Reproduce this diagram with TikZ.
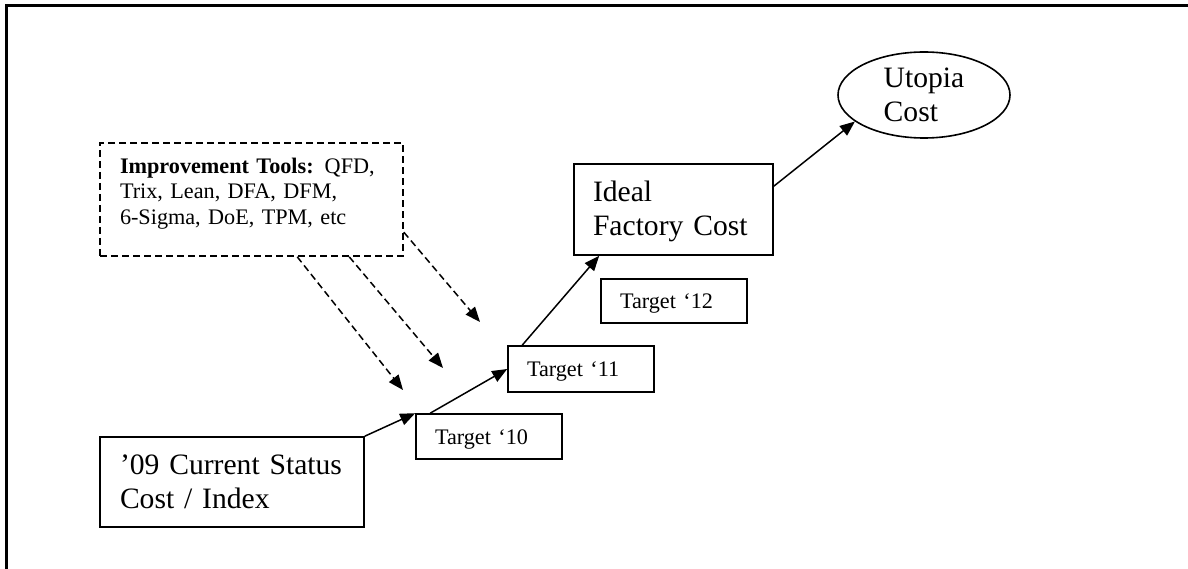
\documentclass[tikz,border=0pt]{standalone}
\usepackage{fontspec}
\setmainfont{Liberation Serif}
\usetikzlibrary{arrows.meta,shapes.geometric,calc}
\begin{document}
\begin{tikzpicture}[x=1pt,y=-1pt,
  box/.style={draw, line width=1.6pt, rectangle, inner ysep=0pt, align=left},
  bigtext/.style={font=\fontsize{29.6}{34}\selectfont},
  smalltext/.style={font=\fontsize{22.2}{25.5}\selectfont},
  targetbox/.style={box, smalltext, minimum width=146pt, text width=108pt, inner xsep=19pt},
  conn/.style={line width=1.5pt, -{Triangle[length=15pt,width=12pt]}},
  dconn/.style={conn, dash pattern=on 7pt off 4pt},
]
\useasboundingbox (0,0) rectangle (1188,569);
\draw[line width=2.2pt] (6.5,572) -- (6.5,5.5) -- (1192,5.5);

\node[box, bigtext, minimum width=264pt, minimum height=90pt, text width=224pt, inner xsep=20pt]
  (cur) at (232,482) {’09 Current Status\\Cost / Index};
\node[targetbox, minimum height=45pt] (t10) at (489,436.5) {\rule{0pt}{19.8pt}Target ‘10};
\node[targetbox, minimum height=46pt] (t11) at (581,369) {\rule{0pt}{19.8pt}Target ‘11};
\node[targetbox, minimum height=44pt] (t12) at (674,301) {\rule{0pt}{19.8pt}Target ‘12};
\node[box, bigtext, minimum width=199pt, minimum height=91pt, text width=161pt, inner xsep=19pt]
  (ideal) at (673.5,209.5) {\rule{0pt}{25pt}Ideal\\Factory Cost};
\node[draw, line width=1.6pt, ellipse, inner sep=0pt, minimum width=172pt, minimum height=86pt,
  bigtext, align=left] (utopia) at (924,95) {Utopia\\Cost};
\node[box, smalltext, dash pattern=on 7pt off 4pt, minimum width=303pt, minimum height=113pt,
  text width=263pt, inner xsep=20pt]
  (tools) at (251.5,199.5) {\mbox{\textbf{Improvement Tools:} QFD,}\\Trix, Lean, DFA, DFM,\\6-Sigma, DoE, TPM, etc\rule[-17pt]{0pt}{0pt}};

\draw[conn] (cur.north east) -- (t10.north west);
\draw[conn] ($(t10.north west)+(15,0)$) -- (t11.west);
\draw[conn] ($(t11.north west)+(15,0)$) -- ($(ideal.south west)+(26,0)$);
\draw[conn] ($(ideal.north east)+(0,23)$) -- (utopia.201);

\coordinate (e1) at (403,390);
\coordinate (e2) at (443,368);
\coordinate (e3) at (480,322);
\draw[dconn] ($(tools.south west)+(198,0)$) -- (e1);
\draw[dconn] ($(tools.south west)+(250,0)$) -- (e2);
\draw[dconn] ($(tools.north east)+(0,90)$) -- (e3);
\end{tikzpicture}
\end{document}
